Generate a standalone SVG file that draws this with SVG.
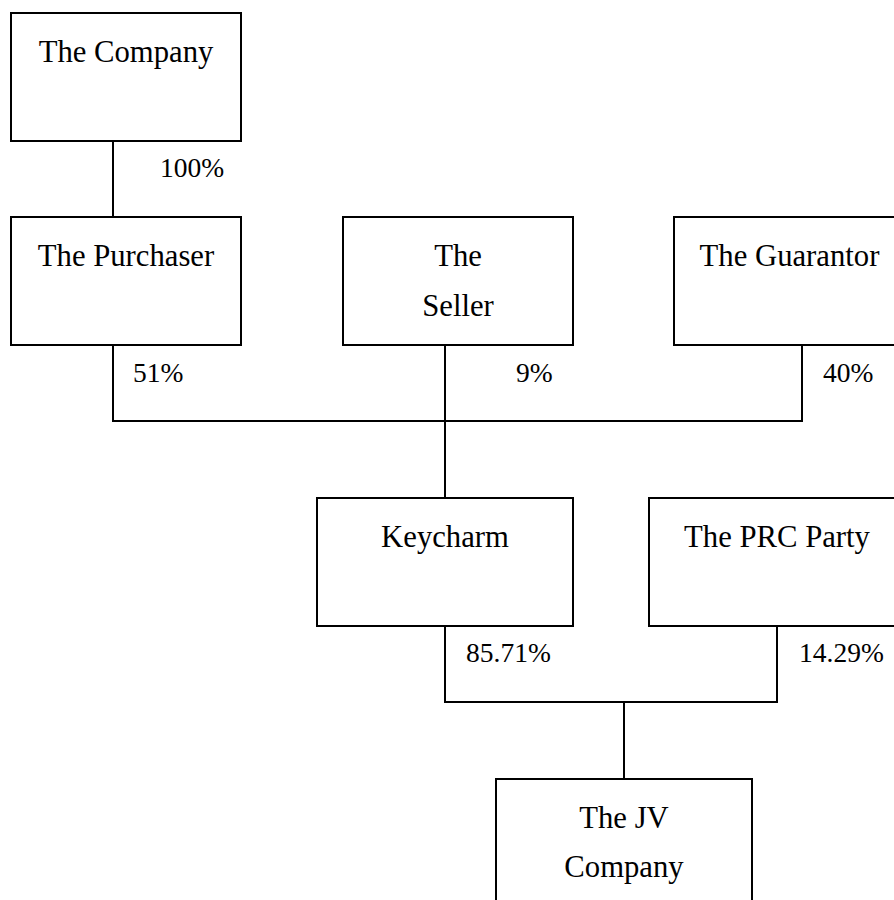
<svg xmlns="http://www.w3.org/2000/svg" width="894" height="900" viewBox="0 0 894 900">
<style>
.box{fill:#fff;stroke:#000;stroke-width:2}
.t{font-family:"Liberation Serif","Times New Roman",serif;font-size:30.7px;fill:#000;text-anchor:middle}
.p{font-family:"Liberation Serif","Times New Roman",serif;font-size:27.5px;fill:#000}
.c{fill:none;stroke:#000;stroke-width:2}
</style>
<rect width="894" height="900" fill="#fff"/>
<g id="connectors">
<path class="c" d="M113 141V217"/>
<path class="c" d="M113 345V421H802V345"/>
<path class="c" d="M445 345V498"/>
<path class="c" d="M445 626V702H777V626"/>
<path class="c" d="M624 702V779"/>
</g>
<g id="labels">
<text class="p" x="160" y="177">100%</text>
<text class="p" x="133" y="382">51%</text>
<text class="p" x="516" y="382">9%</text>
<text class="p" x="823" y="382">40%</text>
<text class="p" x="466" y="662">85.71%</text>
<text class="p" x="799" y="662">14.29%</text>
</g>
<g id="company"><rect class="box" x="11" y="13" width="230" height="128"/><text class="t" x="126" y="62">The Company</text></g>
<g id="purchaser"><rect class="box" x="11" y="217" width="230" height="128"/><text class="t" x="126" y="266">The Purchaser</text></g>
<g id="seller"><rect class="box" x="343" y="217" width="230" height="128"/><text class="t" x="458" y="266">The</text><text class="t" x="458" y="316">Seller</text></g>
<g id="guarantor"><rect class="box" x="674" y="217" width="231" height="128"/><text class="t" x="789.5" y="266">The Guarantor</text></g>
<g id="keycharm"><rect class="box" x="317" y="498" width="256" height="128"/><text class="t" x="445" y="547">Keycharm</text></g>
<g id="prc"><rect class="box" x="649" y="498" width="256" height="128"/><text class="t" x="777" y="547">The PRC Party</text></g>
<g id="jv"><rect class="box" x="496" y="779" width="256" height="160"/><text class="t" x="624" y="828">The JV</text><text class="t" x="624" y="877">Company</text></g>
</svg>
